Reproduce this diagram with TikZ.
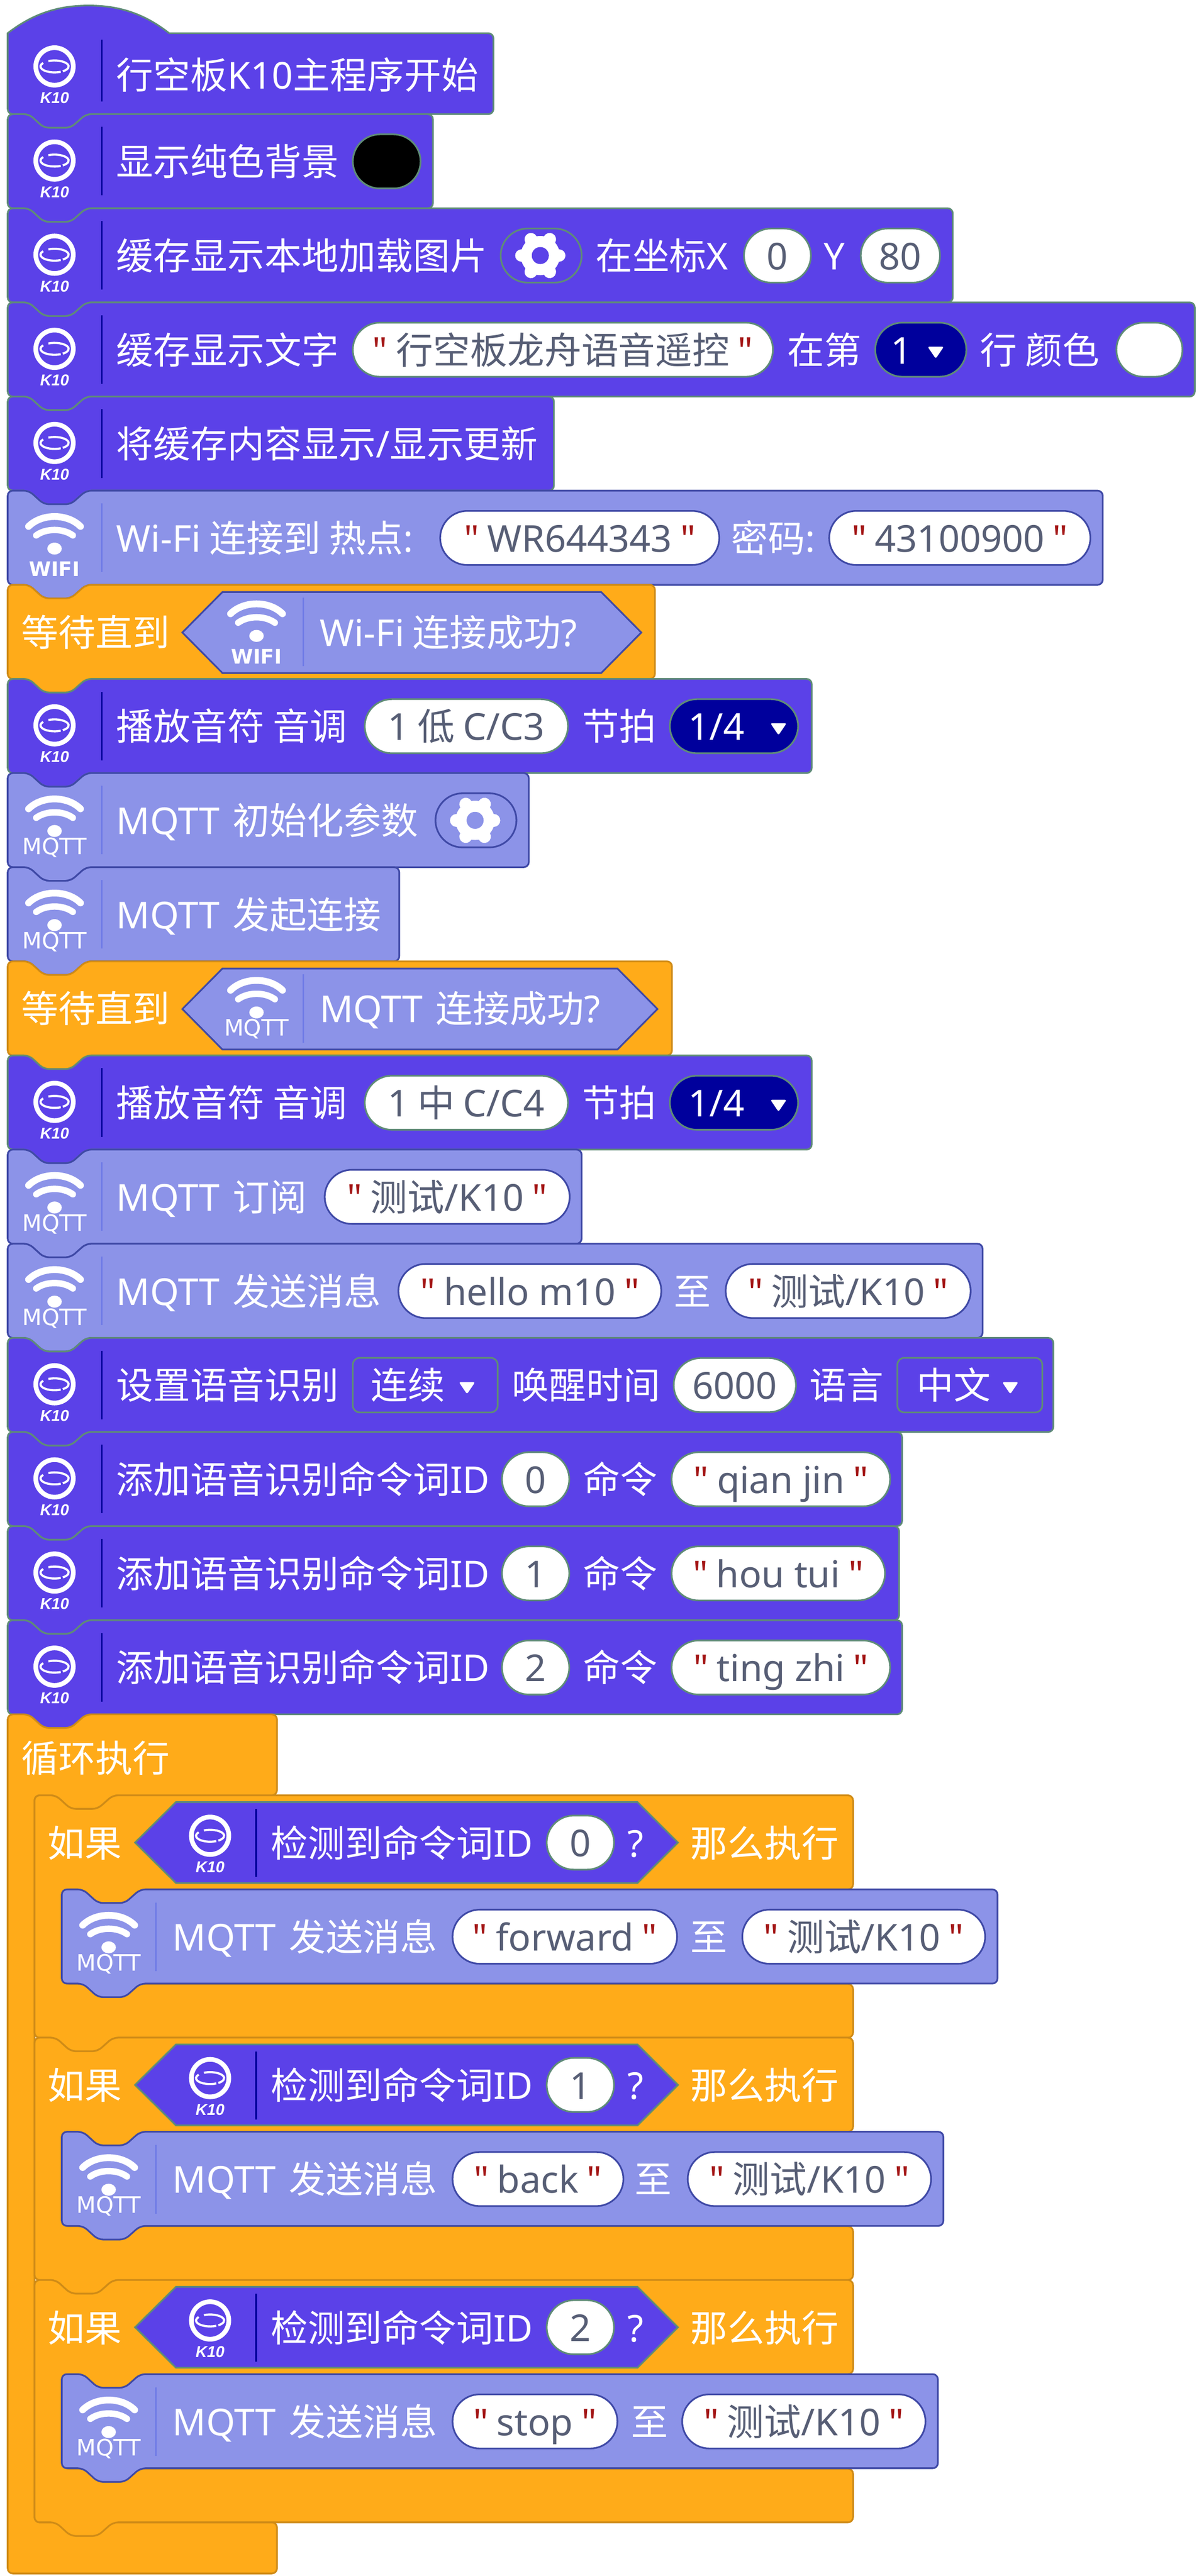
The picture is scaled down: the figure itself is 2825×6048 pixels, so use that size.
\documentclass[tikz,border=0pt]{standalone}
\usepackage{fontspec}
\usetikzlibrary{shapes.misc}
\newfontfamily\cjk{Noto Sans CJK SC}
\newfontfamily\latinfont{Noto Sans}
\newfontfamily\iconfont{Liberation Sans}
\newfontfamily\markfont{DejaVu Sans}
\definecolor{k10fill}{HTML}{5B41E8}
\definecolor{k10edge}{HTML}{5F8B78}
\definecolor{k10rule}{HTML}{00009C}
\definecolor{netfill}{HTML}{8C93E8}
\definecolor{netedge}{HTML}{3F49A6}
\definecolor{netrule}{HTML}{6F7BE6}
\definecolor{ctrlfill}{HTML}{FFAB19}
\definecolor{ctrledge}{HTML}{CF8B17}
\definecolor{valgrey}{HTML}{575E75}
\definecolor{qred}{HTML}{A31515}
\tikzset{
k10block/.style={draw=k10edge, fill=k10fill, line width=4pt},
netblock/.style={draw=netedge, fill=netfill, line width=4pt},
ctrlblock/.style={draw=ctrledge, fill=ctrlfill, line width=4pt},
lbl/.style={anchor=base west, inner sep=0pt, text=white, font=\cjk\fontsize{87}{87}\selectfont},
field/.style={rounded rectangle, anchor=west, inner sep=0pt, line width=4pt, minimum height=127pt, fill=white, text=valgrey, text height=76pt, text depth=10pt, font=\cjk\fontsize{87}{87}\selectfont},
k10field/.style={field, draw=k10edge},
netfield/.style={field, draw=netedge},
navyfield/.style={k10field, fill=k10rule},
boxfield/.style={k10field, rectangle, rounded corners=16pt, fill=k10fill, minimum height=128pt},
}
\newcommand{\en}[1]{{\latinfont #1}}
\newcommand{\mq}{\en{MQTT}\hspace{30pt}}
\newcommand{\qt}[1]{{\color{qred}\latinfont"} #1 {\color{qred}\latinfont"}}
\newcommand{\wifitext}{\bfseries\fontsize{47}{47}\selectfont WIFI}
\newcommand{\mqtttext}{\fontsize{53}{53}\selectfont MQTT}
% block with notch on top and tab below: style, left, top, right
\newcommand{\stackblock}[4]{\draw[#1, rounded corners=12pt] (#2,#3) -- (#2+50,#3) -- (#2+85,#3+32) -- (#2+148,#3+32) -- (#2+184,#3) -- (#4,#3) -- (#4,#3+221) -- (#2+184,#3+221) -- (#2+148,#3+253) -- (#2+85,#3+253) -- (#2+50,#3+221) -- (#2,#3+221) -- cycle;}
% c-shaped if block: top
\newcommand{\ifblock}[1]{\draw[ctrlblock, rounded corners=12pt] (81,#1) -- (131,#1) -- (166,#1+32) -- (229,#1+32) -- (265,#1) -- (2002,#1) -- (2002,#1+221) -- (329,#1+221) -- (293,#1+253) -- (230,#1+253) -- (195,#1+221) -- (150,#1+221) -- (150,#1+443) -- (2002,#1+443) -- (2002,#1+569) -- (265,#1+569) -- (229,#1+601) -- (166,#1+601) -- (131,#1+569) -- (81,#1+569) -- cycle;}
% hexagon: style, x0, x1, x2, x3, centre y
\newcommand{\hexbool}[6]{\draw[#1] (#2,#6) -- (#3,#6-95) -- (#4,#6-95) -- (#5,#6) -- (#4,#6+95) -- (#3,#6+95) -- cycle;}
% k10 mark: x, y, name
\newcommand{\kmark}[3]{\begin{scope}[shift={(#1,#2)}]
\draw[white, line width=11pt] (0,0) circle (44pt);
\draw[white, line width=5pt] (64:33 and 14) arc[start angle=64, end angle=216, x radius=33, y radius=14];
\draw[white, line width=5pt] (244:33 and 14) arc[start angle=244, end angle=414, x radius=33, y radius=14];
\node[inner sep=0pt, text=white, font=\iconfont\bfseries\itshape\fontsize{37}{37}\selectfont] (#3) at (0,74) {K10};
\end{scope}}
% wifi mark: x, y, label, label y, name
\newcommand{\wmark}[5]{\begin{scope}[shift={(#1,#2)}]
\draw[white, line width=16pt, line cap=round] (-61,-26) .. controls (-30,-57) and (30,-57) .. (61,-26);
\draw[white, line width=15pt, line cap=round] (-43,-5) .. controls (-20,-22) and (20,-22) .. (43,-5);
\fill[white] (0,26) ellipse (17pt and 14pt);
\node[inner sep=0pt, text=white, font=\markfont] (#5) at (0,#4) {#3};
\end{scope}}
% gear: x, y, hole colour
\newcommand{\gearmark}[3]{\foreach \a in {0,60,...,300}{\draw[white, line width=30pt, line cap=round] (#1,#2) -- ++(\a:44);}
\fill[white] (#1,#2) circle (46pt);
\fill[#3] (#1,#2) circle (20pt);}
\newcommand{\dropmark}[2]{\fill[white, rounded corners=4pt] (#1-19,#2-11) -- (#1+19,#2-11) -- (#1,#2+17) -- cycle;}
\begin{document}
\begin{tikzpicture}[x=1pt, y=-1pt]
\useasboundingbox (0,0) rectangle (2825,6048);
% hat
\draw[k10block] (18,78) .. controls (80,30) and (140,13) .. (208,13) .. controls (276,13) and (336,30) .. (397,78) [rounded corners=12pt] -- (1158,78) -- (1158,268) -- (202,268) -- (166,300) -- (103,300) -- (68,268) -- (18,268) [sharp corners] -- cycle;
\kmark{128}{156}{m0}
\draw[k10rule, line width=4pt] (239,93) -- (239,238);
\node[lbl] (a0) at (273,209) {行空板\en{K10}主程序开始};
% background
\stackblock{k10block}{18}{268}{1016}
\kmark{128}{377}{m1}
\draw[k10rule, line width=4pt] (239,298) -- (239,459);
\node[lbl] (a1) at (273,412) {显示纯色背景};
\node[k10field, fill=black, minimum width=159pt] (c1) at (826,379) {};
% picture
\stackblock{k10block}{18}{489}{2236}
\kmark{128}{598}{m2}
\draw[k10rule, line width=4pt] (239,519) -- (239,680);
\node[lbl] (a2) at (273,633) {缓存显示本地加载图片};
\node[k10field, minimum width=190pt, fill=k10fill] (g2) at (1173,600) {};
\gearmark{1268}{600}{k10fill}
\node[lbl] (b2) at (1397,633) {在坐标\en{X}};
\node[k10field, minimum width=157pt] (x2) at (1744,600) {\en{0}};
\node[lbl] (d2) at (1933,633) {\en{Y}};
\node[k10field, minimum width=186pt] (y2) at (2018,600) {\en{80}};
% text
\stackblock{k10block}{18}{710}{2804}
\kmark{128}{819}{m3}
\draw[k10rule, line width=4pt] (239,740) -- (239,901);
\node[lbl] (a3) at (273,854) {缓存显示文字};
\node[k10field, minimum width=986pt] (s3) at (826,821) {\qt{行空板龙舟语音遥控}};
\node[lbl] (b3) at (1848,854) {在第};
\node[navyfield, minimum width=214pt] (n3) at (2052,821) {};
\node[lbl] (v3) at (2090,854) {\en{1}};
\dropmark{2196}{825}
\node[lbl] (d3) at (2300,854) {行 颜色};
\node[k10field, minimum width=155pt] (c3) at (2618,821) {};
% update
\stackblock{k10block}{18}{931}{1300}
\kmark{128}{1040}{m4}
\draw[k10rule, line width=4pt] (239,961) -- (239,1122);
\node[lbl] (a4) at (273,1075) {将缓存内容显示\en{/}显示更新};
% wifi
\stackblock{netblock}{18}{1152}{2588}
\wmark{128}{1262}{\wifitext}{74}{m5}
\draw[netrule, line width=4pt] (239,1182) -- (239,1343);
\node[lbl] (a5) at (273,1296) {\en{Wi-Fi} 连接到 热点\en{:}};
\node[netfield, minimum width=655pt] (s5) at (1031,1263) {\qt{\en{WR644343}}};
\node[lbl] (b5) at (1716,1296) {密码\en{:}};
\node[netfield, minimum width=613pt] (p5) at (1944,1263) {\qt{\en{43100900}}};
% wait wifi
\stackblock{ctrlblock}{18}{1373}{1537}
\node[lbl] (a6) at (50,1517) {等待直到};
\hexbool{netblock}{428}{522}{1411}{1505}{1485}
\wmark{602}{1467}{\wifitext}{74}{m6}
\draw[netrule, line width=4pt] (712,1403) -- (712,1564);
\node[lbl] (b6) at (750,1517) {\en{Wi-Fi} 连接成功\en{?}};
% note low
\stackblock{k10block}{18}{1594}{1905}
\kmark{128}{1703}{m7}
\draw[k10rule, line width=4pt] (239,1624) -- (239,1785);
\node[lbl] (a7) at (273,1738) {播放音符 音调};
\node[k10field, minimum width=477pt] (t7) at (854,1705) {\en{1} 低 \en{C/C3}};
\node[lbl] (b7) at (1366,1738) {节拍};
\node[navyfield, minimum width=301pt] (n7) at (1570,1705) {};
\node[lbl] (v7) at (1615,1738) {\en{1/4}};
\dropmark{1827}{1709}
% mqtt init
\stackblock{netblock}{18}{1815}{1241}
\wmark{128}{1925}{\mqtttext}{65}{m8}
\draw[netrule, line width=4pt] (239,1845) -- (239,2006);
\node[lbl] (a8) at (273,1959) {\mq 初始化参数};
\node[netfield, minimum width=190pt, fill=netfill] (g8) at (1020,1926) {};
\gearmark{1115}{1926}{netfill}
% mqtt connect
\stackblock{netblock}{18}{2036}{937}
\wmark{128}{2146}{\mqtttext}{65}{m9}
\draw[netrule, line width=4pt] (239,2066) -- (239,2227);
\node[lbl] (a9) at (273,2180) {\mq 发起连接};
% wait mqtt
\stackblock{ctrlblock}{18}{2257}{1577}
\node[lbl] (a10) at (50,2401) {等待直到};
\hexbool{netblock}{428}{522}{1449}{1543}{2369}
\wmark{602}{2351}{\mqtttext}{65}{m10}
\draw[netrule, line width=4pt] (712,2287) -- (712,2448);
\node[lbl] (b10) at (750,2401) {\mq 连接成功\en{?}};
% note mid
\stackblock{k10block}{18}{2478}{1905}
\kmark{128}{2587}{m11}
\draw[k10rule, line width=4pt] (239,2508) -- (239,2669);
\node[lbl] (a11) at (273,2622) {播放音符 音调};
\node[k10field, minimum width=477pt] (t11) at (854,2589) {\en{1} 中 \en{C/C4}};
\node[lbl] (b11) at (1366,2622) {节拍};
\node[navyfield, minimum width=301pt] (n11) at (1570,2589) {};
\node[lbl] (v11) at (1615,2622) {\en{1/4}};
\dropmark{1827}{2593}
% subscribe
\stackblock{netblock}{18}{2699}{1365}
\wmark{128}{2809}{\mqtttext}{65}{m12}
\draw[netrule, line width=4pt] (239,2729) -- (239,2890);
\node[lbl] (a12) at (273,2843) {\mq 订阅};
\node[netfield, minimum width=575pt] (s12) at (760,2810) {\qt{测试\en{/K10}}};
% publish
\stackblock{netblock}{18}{2920}{2306}
\wmark{128}{3030}{\mqtttext}{65}{m13}
\draw[netrule, line width=4pt] (239,2950) -- (239,3111);
\node[lbl] (a13) at (273,3064) {\mq 发送消息};
\node[netfield, minimum width=617pt] (s13) at (933,3031) {\qt{\en{hello m10}}};
\node[lbl] (b13) at (1581,3064) {至};
\node[netfield, minimum width=575pt] (p13) at (1701,3031) {\qt{测试\en{/K10}}};
% speech setup
\stackblock{k10block}{18}{3141}{2472}
\kmark{128}{3250}{m14}
\draw[k10rule, line width=4pt] (239,3171) -- (239,3332);
\node[lbl] (a14) at (273,3285) {设置语音识别};
\node[boxfield, minimum width=340pt] (n14) at (826,3252) {};
\node[lbl] (v14) at (870,3285) {连续};
\dropmark{1096}{3256}
\node[lbl] (b14) at (1202,3285) {唤醒时间};
\node[k10field, minimum width=287pt] (t14) at (1579,3252) {\en{6000}};
\node[lbl] (d14) at (1899,3285) {语言};
\node[boxfield, minimum width=340pt] (l14) at (2104,3252) {};
\node[lbl] (w14) at (2151,3285) {中文};
\dropmark{2371}{3256}
% commands
\stackblock{k10block}{18}{3362}{2117}
\kmark{128}{3471}{m15}
\draw[k10rule, line width=4pt] (239,3392) -- (239,3553);
\node[lbl] (a15) at (273,3506) {添加语音识别命令词\en{ID}};
\node[k10field, minimum width=158pt] (i15) at (1176,3473) {\en{0}};
\node[lbl] (b15) at (1369,3506) {命令};
\node[k10field, minimum width=513pt] (s15) at (1574,3473) {\qt{\en{qian jin}}};
\stackblock{k10block}{18}{3583}{2110}
\kmark{128}{3692}{m16}
\draw[k10rule, line width=4pt] (239,3613) -- (239,3774);
\node[lbl] (a16) at (273,3727) {添加语音识别命令词\en{ID}};
\node[k10field, minimum width=158pt] (i16) at (1176,3694) {\en{1}};
\node[lbl] (b16) at (1369,3727) {命令};
\node[k10field, minimum width=501pt] (s16) at (1574,3694) {\qt{\en{hou tui}}};
\stackblock{k10block}{18}{3804}{2117}
\kmark{128}{3913}{m17}
\draw[k10rule, line width=4pt] (239,3834) -- (239,3995);
\node[lbl] (a17) at (273,3948) {添加语音识别命令词\en{ID}};
\node[k10field, minimum width=158pt] (i17) at (1176,3915) {\en{2}};
\node[lbl] (b17) at (1369,3948) {命令};
\node[k10field, minimum width=513pt] (s17) at (1574,3915) {\qt{\en{ting zhi}}};
% loop
\draw[ctrlblock, rounded corners=12pt] (18,4025) -- (68,4025) -- (103,4057) -- (166,4057) -- (202,4025) -- (650,4025) -- (650,4215) -- (265,4215) -- (229,4247) -- (166,4247) -- (131,4215) -- (81,4215) -- (81,5922) -- (650,5922) -- (650,6042) -- (18,6042) -- cycle;
\node[lbl] (a18) at (50,4160) {循环执行};
% first if
\ifblock{4215}
\node[lbl] (a19) at (112,4360) {如果};
\hexbool{k10block}{317}{413}{1496}{1591}{4326}
\kmark{493}{4310}{m19}
\draw[k10rule, line width=4pt] (601,4247) -- (601,4407);
\node[lbl] (b19) at (636,4360) {检测到命令词\en{ID}};
\node[k10field, minimum width=158pt] (i19) at (1281,4326) {\en{0}};
\node[lbl] (d19) at (1472,4360) {\en{?}};
\node[lbl] (e19) at (1620,4360) {那么执行};
\stackblock{netblock}{145}{4436}{2341}
\wmark{255}{4546}{\mqtttext}{65}{m20}
\draw[netrule, line width=4pt] (366,4467) -- (366,4628);
\node[lbl] (a20) at (405,4580) {\mq 发送消息};
\node[netfield, minimum width=527pt] (s20) at (1060,4547) {\qt{\en{forward}}};
\node[lbl] (b20) at (1620,4580) {至};
\node[netfield, minimum width=570pt] (p20) at (1740,4547) {\qt{测试\en{/K10}}};
% second if
\ifblock{4784}
\node[lbl] (a21) at (112,4929) {如果};
\hexbool{k10block}{317}{413}{1496}{1591}{4895}
\kmark{493}{4879}{m21}
\draw[k10rule, line width=4pt] (601,4816) -- (601,4976);
\node[lbl] (b21) at (636,4929) {检测到命令词\en{ID}};
\node[k10field, minimum width=158pt] (i21) at (1281,4895) {\en{1}};
\node[lbl] (d21) at (1472,4929) {\en{?}};
\node[lbl] (e21) at (1620,4929) {那么执行};
\stackblock{netblock}{145}{5005}{2214}
\wmark{255}{5115}{\mqtttext}{65}{m22}
\draw[netrule, line width=4pt] (366,5036) -- (366,5197);
\node[lbl] (a22) at (405,5149) {\mq 发送消息};
\node[netfield, minimum width=401pt] (s22) at (1060,5116) {\qt{\en{back}}};
\node[lbl] (b22) at (1489,5149) {至};
\node[netfield, minimum width=571pt] (p22) at (1612,5116) {\qt{测试\en{/K10}}};
% third if
\ifblock{5353}
\node[lbl] (a23) at (112,5498) {如果};
\hexbool{k10block}{317}{413}{1496}{1591}{5464}
\kmark{493}{5448}{m23}
\draw[k10rule, line width=4pt] (601,5385) -- (601,5545);
\node[lbl] (b23) at (636,5498) {检测到命令词\en{ID}};
\node[k10field, minimum width=158pt] (i23) at (1281,5464) {\en{2}};
\node[lbl] (d23) at (1472,5498) {\en{?}};
\node[lbl] (e23) at (1620,5498) {那么执行};
\stackblock{netblock}{145}{5574}{2201}
\wmark{255}{5684}{\mqtttext}{65}{m24}
\draw[netrule, line width=4pt] (366,5605) -- (366,5766);
\node[lbl] (a24) at (405,5718) {\mq 发送消息};
\node[netfield, minimum width=387pt] (s24) at (1060,5685) {\qt{\en{stop}}};
\node[lbl] (b24) at (1481,5718) {至};
\node[netfield, minimum width=571pt] (p24) at (1599,5685) {\qt{测试\en{/K10}}};
\end{tikzpicture}
\end{document}
